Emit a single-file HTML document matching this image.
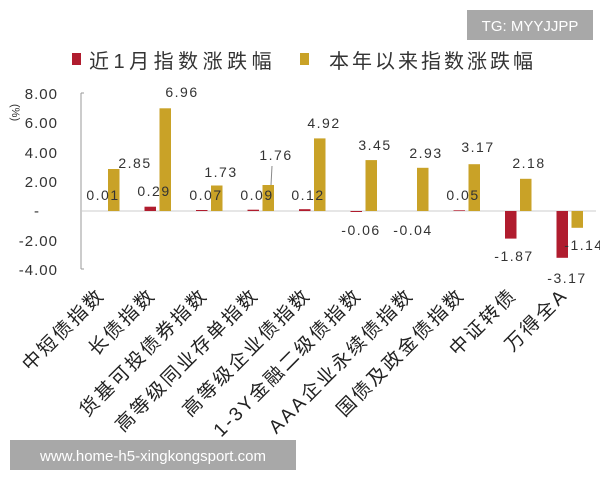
<!DOCTYPE html>
<html><head><meta charset="utf-8"><style>
body{margin:0;background:#fff}
svg{display:block}
text{font-family:"Liberation Sans","Noto Sans CJK SC",sans-serif}
</style></head><body>
<svg width="600" height="480" viewBox="0 0 600 480" xmlns="http://www.w3.org/2000/svg">
<rect x="467" y="10" width="126" height="30" fill="#a8a8a8"/>
<text x="530" y="31" font-size="15" fill="#fff" text-anchor="middle">TG: MYYJJPP</text>
<rect x="72" y="53" width="9" height="12" fill="#b01c2e"/>
<text x="89" y="68" font-size="20" fill="#333" letter-spacing="4.5">近1月指数涨跌幅</text>
<rect x="300" y="53" width="9" height="12" fill="#c9a227"/>
<text x="329" y="68" font-size="20" fill="#333" letter-spacing="3">本年以来指数涨跌幅</text>
<text transform="translate(12,104) rotate(90)" font-size="11" fill="#333">(%)</text>
<g font-size="15" fill="#333" text-anchor="end" letter-spacing="1">
<text x="58" y="99">8.00</text><text x="58" y="128">6.00</text><text x="58" y="158">4.00</text>
<text x="58" y="187">2.00</text><text x="40" y="216">-</text><text x="58" y="246">-2.00</text><text x="58" y="275">-4.00</text>
</g>
<line x1="81" y1="93" x2="81" y2="269" stroke="#999"/>
<line x1="81" y1="93" x2="84" y2="93" stroke="#999"/>
<line x1="81" y1="269" x2="84" y2="269" stroke="#999"/>
<line x1="81" y1="211" x2="596" y2="211" stroke="#ccc"/>
<g fill="#c9a227">
<rect x="108" y="169" width="11.5" height="42"/>
<rect x="159.5" y="108.3" width="11.5" height="102.7"/>
<rect x="211" y="185.5" width="11.5" height="25.5"/>
<rect x="262.5" y="185" width="11.5" height="26"/>
<rect x="314" y="138.4" width="11.5" height="72.6"/>
<rect x="365.5" y="160.1" width="11.5" height="50.9"/>
<rect x="417" y="167.8" width="11.5" height="43.2"/>
<rect x="468.5" y="164.2" width="11.5" height="46.8"/>
<rect x="520" y="178.8" width="11.5" height="32.2"/>
<rect x="571.5" y="211" width="11.5" height="16.8"/>
</g>
<g fill="#b01c2e">
<rect x="144.5" y="206.7" width="11.5" height="4.3"/>
<rect x="196" y="210" width="11.5" height="1"/>
<rect x="247.5" y="209.7" width="11.5" height="1.3"/>
<rect x="299" y="209.2" width="11.5" height="1.8"/>
<rect x="350.5" y="211" width="11.5" height="1"/>
<rect x="453.5" y="210.3" width="11.5" height="0.7"/>
<rect x="505" y="211" width="11.5" height="27.6"/>
<rect x="556.5" y="211" width="11.5" height="46.8"/>
</g>
<line x1="271" y1="185" x2="272" y2="166" stroke="#888"/>
<g font-size="14" fill="#333" text-anchor="middle" letter-spacing="1.5">
<text x="135" y="168">2.85</text><text x="182" y="97">6.96</text><text x="221" y="177">1.73</text>
<text x="276" y="160">1.76</text><text x="324" y="128">4.92</text><text x="375" y="150">3.45</text>
<text x="426" y="158">2.93</text><text x="478" y="152">3.17</text><text x="529" y="168">2.18</text>
<text x="584" y="250">-1.14</text>
<text x="103" y="200">0.01</text><text x="154" y="196">0.29</text><text x="206" y="200">0.07</text>
<text x="257" y="200">0.09</text><text x="308" y="200">0.12</text><text x="463" y="200">0.05</text>
<text x="361" y="235">-0.06</text><text x="413" y="235">-0.04</text>
<text x="514" y="261">-1.87</text><text x="567" y="283">-3.17</text>
</g>
<g font-size="19" fill="#222" text-anchor="end" letter-spacing="2.5">
<text transform="translate(106,296) rotate(-45)">中短债指数</text>
<text transform="translate(157,296) rotate(-45)">长债指数</text>
<text transform="translate(209,296) rotate(-45)">货基可投债券指数</text>
<text transform="translate(260,296) rotate(-45)">高等级同业存单指数</text>
<text transform="translate(312,296) rotate(-45)">高等级企业债指数</text>
<text transform="translate(363,296) rotate(-45)">1-3Y金融二级债指数</text>
<text transform="translate(415,296) rotate(-45)">AAA企业永续债指数</text>
<text transform="translate(466,296) rotate(-45)">国债及政金债指数</text>
<text transform="translate(518,296) rotate(-45)">中证转债</text>
<text transform="translate(569,296) rotate(-45)">万得全A</text>
</g>
<rect x="10" y="440" width="286" height="30" fill="#a8a8a8"/>
<text x="153" y="461" font-size="15" fill="#fff" text-anchor="middle">www.home-h5-xingkongsport.com</text>
</svg>
</body></html>
